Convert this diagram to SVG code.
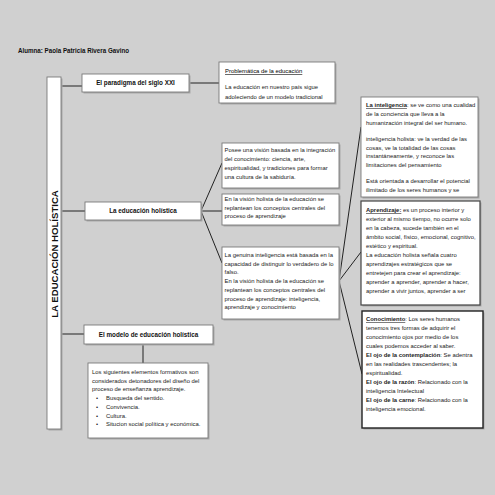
<svg xmlns="http://www.w3.org/2000/svg" width="495" height="495" viewBox="0 0 495 495">
<style>
.bg{fill:#d0d0d0}
.box{fill:#ffffff;stroke:#7a7a7a;stroke-width:0.9}
.sh{fill:#a8a8a8}
.dark{stroke:#222222;stroke-width:1.4}
.t{font-family:"Liberation Sans",Arial,sans-serif;font-size:5.9px;fill:#222222}
.h{font-family:"Liberation Sans",Arial,sans-serif;font-size:6.3px;font-weight:bold;fill:#111111}
.b{font-weight:bold}
.u{text-decoration:underline}
.c{fill:none;stroke:#222222;stroke-width:1}
</style>
<rect class="bg" x="0" y="0" width="495" height="495"/>
<text class="h" x="18" y="53" textLength="111" lengthAdjust="spacingAndGlyphs">Alumna: Paola Patricia Rivera Gavino</text>

<g id="connectors">
<line class="c" x1="61" y1="86" x2="82" y2="86"/>
<line class="c" x1="189" y1="83" x2="219" y2="83"/>
<line class="c" x1="61" y1="211" x2="85" y2="211"/>
<line class="c" x1="201" y1="211" x2="222" y2="163"/>
<line class="c" x1="201" y1="211" x2="222" y2="211"/>
<line class="c" x1="201" y1="211" x2="222" y2="263"/>
<line class="c" x1="339" y1="281" x2="361" y2="127"/>
<line class="c" x1="339" y1="281" x2="361" y2="252"/>
<line class="c" x1="339" y1="281" x2="362" y2="374"/>
<line class="c" x1="61" y1="334" x2="84" y2="334"/>
<line class="c" x1="143" y1="344" x2="143" y2="363"/>
</g>

<g id="title-bar">
<rect class="sh" x="48.5" y="78.5" width="14" height="352"/>
<rect class="box" x="47" y="77" width="14" height="352"/>
<text class="h" transform="translate(57.5,254) rotate(-90)" text-anchor="middle" style="font-size:9.6px">LA EDUCACIÓN HOLÍSTICA</text>
</g>

<g id="paradigma">
<rect class="sh" x="83.5" y="75.5" width="107" height="18"/>
<rect class="box" x="82" y="74" width="107" height="18"/>
<text class="h" x="135.5" y="85.2" text-anchor="middle">El paradigma del siglo XXI</text>
</g>

<g id="problematica">
<rect class="sh" x="220.5" y="63.5" width="116" height="41"/>
<rect class="box" x="219" y="62" width="116" height="41"/>
<text class="t" x="225" y="73"><tspan class="u" style="fill:#000">Problemática de la educación</tspan></text>
<text class="t" x="225" y="89">La educación en nuestro país sigue</text>
<text class="t" x="225" y="98.5">adoleciendo de un modelo tradicional</text>
</g>

<g id="holistica">
<rect class="sh" x="86.5" y="203.5" width="116" height="18"/>
<rect class="box" x="85" y="202" width="116" height="18"/>
<text class="h" x="143" y="213.2" text-anchor="middle">La educación holística</text>
</g>

<g id="vision">
<rect class="sh" x="223.5" y="144.5" width="117" height="45"/>
<rect class="box" x="222" y="143" width="117" height="45"/>
<text class="t" x="224.5" y="152">Posee una visión basada en la integración</text>
<text class="t" x="224.5" y="161">del conocimiento: ciencia, arte,</text>
<text class="t" x="224.5" y="170">espiritualidad, y tradiciones para formar</text>
<text class="t" x="224.5" y="179">una cultura de la sabiduría.</text>
</g>

<g id="replantean">
<rect class="sh" x="223.5" y="195.5" width="117" height="31"/>
<rect class="box" x="222" y="194" width="117" height="31"/>
<text class="t" x="224.5" y="201">En la visión holista de la educación se</text>
<text class="t" x="224.5" y="209.5">replantean los conceptos centrales del</text>
<text class="t" x="224.5" y="218">proceso de aprendizaje</text>
</g>

<g id="genuina">
<rect class="sh" x="223.5" y="248.5" width="117" height="72"/>
<rect class="box" x="222" y="247" width="117" height="72"/>
<text class="t" x="224.5" y="257">La genuina inteligencia está basada en la</text>
<text class="t" x="224.5" y="265.7">capacidad de distinguir lo verdadero de lo</text>
<text class="t" x="224.5" y="274.4">falso.</text>
<text class="t" x="224.5" y="283.1">En la visión holista de la educación se</text>
<text class="t" x="224.5" y="291.8">replantean los conceptos centrales del</text>
<text class="t" x="224.5" y="300.5">proceso de aprendizaje: inteligencia,</text>
<text class="t" x="224.5" y="309.2">aprendizaje y conocimiento</text>
</g>

<g id="inteligencia">
<rect class="sh" x="362.5" y="98.5" width="117" height="100"/>
<rect class="box" x="361" y="97" width="117" height="100"/>
<text class="t" x="366" y="107"><tspan class="b u">La inteligencia</tspan>: se ve como una cualidad</text>
<text class="t" x="366" y="116">de la conciencia que lleva a la</text>
<text class="t" x="366" y="125">humanización integral del ser humano.</text>
<text class="t" x="366" y="141">inteligencia holista: ve la verdad de las</text>
<text class="t" x="366" y="149.5">cosas, ve la totalidad de las cosas</text>
<text class="t" x="366" y="158">instantáneamente, y reconoce las</text>
<text class="t" x="366" y="166.5">limitaciones del pensamiento</text>
<text class="t" x="366" y="183">Está orientada a desarrollar el potencial</text>
<text class="t" x="366" y="191.5">ilimitado de los seres humanos y se</text>
</g>

<g id="aprendizaje">
<rect class="sh" x="362.5" y="202.5" width="119" height="104"/>
<rect class="box" x="361" y="201" width="119" height="104" style="stroke:#444;stroke-width:1.2"/>
<text class="t" x="366" y="212"><tspan class="b u">Aprendizaje:</tspan> es un proceso interior y</text>
<text class="t" x="366" y="221">exterior al mismo tiempo, no ocurre solo</text>
<text class="t" x="366" y="230">en la cabeza, sucede también en el</text>
<text class="t" x="366" y="239">ámbito social, físico, emocional, cognitivo,</text>
<text class="t" x="366" y="248">estético y espiritual.</text>
<text class="t" x="366" y="257">La educación holista señala cuatro</text>
<text class="t" x="366" y="266">aprendizajes estratégicos que se</text>
<text class="t" x="366" y="275">entretejen para crear el aprendizaje:</text>
<text class="t" x="366" y="284">aprender a aprender, aprender a hacer,</text>
<text class="t" x="366" y="293">aprender a vivir juntos, aprender a ser</text>
</g>

<g id="conocimiento">
<rect class="sh" x="363.5" y="312.5" width="121" height="117"/>
<rect class="box dark" x="362" y="311" width="121" height="117"/>
<text class="t" x="366" y="321"><tspan class="b u">Conocimiento</tspan>: Los seres humanos</text>
<text class="t" x="366" y="330">tenemos tres formas de adquirir el</text>
<text class="t" x="366" y="339">conocimiento ojos por medio de los</text>
<text class="t" x="366" y="348">cuales podemos acceder al saber.</text>
<text class="t" x="366" y="357"><tspan class="b">El ojo de la contemplación</tspan>: Se adentra</text>
<text class="t" x="366" y="366">en las realidades trascendentes; la</text>
<text class="t" x="366" y="375">espiritualidad.</text>
<text class="t" x="366" y="384"><tspan class="b">El ojo de la razón</tspan>: Relacionado con la</text>
<text class="t" x="366" y="393">inteligencia Intelectual</text>
<text class="t" x="366" y="402"><tspan class="b">El ojo de la carne</tspan>: Relacionado con la</text>
<text class="t" x="366" y="411">inteligencia emocional.</text>
</g>

<g id="modelo">
<rect class="sh" x="85.5" y="326.5" width="129" height="19"/>
<rect class="box" x="84" y="325" width="129" height="19"/>
<text class="h" x="148.5" y="336.5" text-anchor="middle">El modelo de educación holística</text>
</g>

<g id="elementos">
<rect class="sh" x="89.5" y="364.5" width="120" height="75"/>
<rect class="box" x="88" y="363" width="120" height="75"/>
<text class="t" x="92" y="374">Los siguientes elementos formativos son</text>
<text class="t" x="92" y="382.7">considerados detonadores del diseño del</text>
<text class="t" x="92" y="391.4">proceso de enseñanza aprendizaje.</text>
<text class="t" x="96" y="400.1">•</text><text class="t" x="106" y="400.1">Busqueda del sentido.</text>
<text class="t" x="96" y="408.8">•</text><text class="t" x="106" y="408.8">Convivencia.</text>
<text class="t" x="96" y="417.5">•</text><text class="t" x="106" y="417.5">Cultura.</text>
<text class="t" x="96" y="426.2">•</text><text class="t" x="106" y="426.2">Situcion social política y económica.</text>
</g>
</svg>
